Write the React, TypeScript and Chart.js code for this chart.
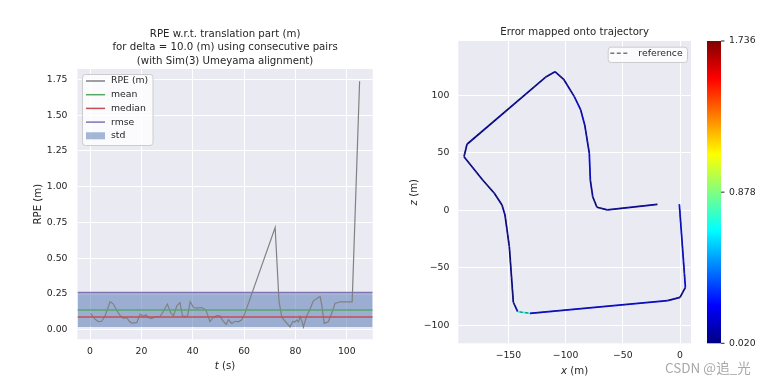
import React, { useEffect, useRef } from "react";
import { Chart, registerables } from "chart.js";

Chart.register(...registerables);

const FONT = "'DejaVu Sans', 'Liberation Sans', sans-serif";
const TEXT = "#262626";

// ---------- Left panel: RPE over time ----------
const titleLinesLeft = [
  "RPE w.r.t. translation part (m)",
  "for delta = 10.0 (m) using consecutive pairs",
  "(with Sim(3) Umeyama alignment)",
];
const rpeTime = [
  0.2, 1.9, 3.2, 4.5, 5.8, 7.8, 9.1, 10.4, 11.7, 13.0, 14.3, 15.3, 16.2, 18.2, 19.5,
  20.8, 21.8, 22.7, 24.0, 25.3, 27.3, 28.6, 30.1, 31.4, 32.5, 33.8, 35.0, 36.0, 37.0, 38.0,
  39.0, 40.3, 41.6, 43.5, 45.1, 46.7, 48.0, 49.4, 50.6, 51.7, 53.0, 53.9, 55.2, 56.5, 57.8,
  59.1, 60.3, 72.1, 73.6, 74.7, 77.9, 79.0, 79.8, 80.5, 81.2, 81.8, 82.5, 83.1, 84.4, 85.4,
  87.0, 89.6, 90.2, 91.2, 92.8, 94.5, 95.4, 97.4, 102.1, 105.0,
];
const rpeValue = [
  0.115, 0.075, 0.058, 0.06, 0.095, 0.196, 0.18, 0.135, 0.1, 0.08, 0.085, 0.06, 0.047, 0.05, 0.11,
  0.095, 0.105, 0.085, 0.078, 0.09, 0.095, 0.13, 0.18, 0.12, 0.098, 0.168, 0.19, 0.098, 0.093, 0.098,
  0.196, 0.156, 0.152, 0.156, 0.14, 0.058, 0.087, 0.1, 0.098, 0.065, 0.038, 0.07, 0.045, 0.06, 0.056,
  0.07, 0.115, 0.715, 0.2, 0.087, 0.021, 0.059, 0.055, 0.068, 0.056, 0.091, 0.063, 0.02, 0.098, 0.133,
  0.203, 0.233, 0.18, 0.045, 0.056, 0.133, 0.184, 0.196, 0.196, 1.736,
];
const statMean = 0.138;
const statMedian = 0.089;
const statRmse = 0.261;
const statStd = 0.235; // band spans mean ± std/2
const leftXRange = [-4.9, 110.1];
const leftYRange = [-0.066, 1.822];
const leftXTicks = [0, 20, 40, 60, 80, 100];
const leftYTicks = [0, 0.25, 0.5, 0.75, 1.0, 1.25, 1.5, 1.75];

// ---------- Right panel: trajectory ----------
const trajX = [
  -19.8, -63.5, -72.6, -76.3, -78.4, -79.3, -83.3, -86.8, -92.4, -101.7, -109.3, -117.7, -186.2, -188.8,
  -172.5, -162.3, -155.6, -153.0, -149.2, -145.7, -141.9, -131.1, -10.8, 0.0, 4.7, 3.8, -0.6,
];
const trajZ = [
  5.2, 0.3, 2.6, 11.8, 26.3, 49.6, 74.2, 87.2, 98.8, 113.9, 120.5, 115.6, 57.4, 46.6,
  26.3, 14.8, 4.6, -4.1, -31.7, -80.0, -88.2, -89.6, -78.6, -75.7, -67.0, -54.8, 5.2,
];
const trajErr = [
  0.1, 0.08, 0.06, 0.1, 0.19, 0.1, 0.15, 0.18, 0.1, 0.09, 0.08, 0.06, 0.05, 0.06,
  0.04, 0.06, 0.11, 0.06, 0.05, 0.11, 0.72, 0.2, 0.1, 0.06, 0.2, 0.19, 0.19,
];
const errMin = 0.02;
const errMax = 1.736;
const cbarTicks = [0.02, 0.878, 1.736];
const rightXRange = [-193.8, 9.6];
const rightYRange = [-115.7, 147.2];
const rightXTicks = [-150, -100, -50, 0];
const rightYTicks = [-100, -50, 0, 50, 100];

const jet = (v: number) => {
  const c = (x: number) => Math.max(0, Math.min(1, x));
  const r = c(Math.min(4 * v - 1.5, -4 * v + 4.5));
  const g = c(Math.min(4 * v - 0.5, -4 * v + 3.5));
  const b = c(Math.min(4 * v + 0.5, -4 * v + 2.5));
  return `rgb(${Math.round(r * 255)},${Math.round(g * 255)},${Math.round(b * 255)})`;
};
const normErr = (e: number) => (e - errMin) / (errMax - errMin);

function drawParts(ctx: CanvasRenderingContext2D, parts: [string, boolean][], x: number, y: number, size: number, rotate = false) {
  ctx.save();
  ctx.translate(x, y);
  if (rotate) ctx.rotate(-Math.PI / 2);
  ctx.fillStyle = TEXT;
  ctx.textBaseline = "middle";
  ctx.textAlign = "left";
  const widths = parts.map(([t, it]) => {
    ctx.font = `${it ? "italic " : ""}${size}px ${FONT}`;
    return ctx.measureText(t).width;
  });
  const total = widths.reduce((a, b) => a + b, 0);
  let cx = -total / 2;
  parts.forEach(([t, it], i) => {
    ctx.font = `${it ? "italic " : ""}${size}px ${FONT}`;
    ctx.fillText(t, cx, 0);
    cx += widths[i];
  });
  ctx.restore();
}

const bgPlugin = {
  id: "bgPlot",
  beforeDraw(chart: any) {
    const { ctx, chartArea: a } = chart;
    ctx.save();
    ctx.fillStyle = "#FFFFFF";
    ctx.fillRect(0, 0, chart.width, chart.height);
    ctx.fillStyle = "#EAEAF2";
    ctx.fillRect(a.left, a.top, a.right - a.left, a.bottom - a.top);
    ctx.restore();
  },
};

const tickFont = { family: FONT, size: 9.3 };

function baseScale(range: number[], tickVals: number[], size: number, pad: number, horizontal: boolean, fmt: (v: number) => string) {
  return {
    type: "linear",
    min: range[0],
    max: range[1],
    bounds: "data",
    afterBuildTicks: (s: any) => {
      s.ticks = tickVals.map((v) => ({ value: v }));
    },
    afterFit: (s: any) => {
      if (horizontal) s.height = size;
      else s.width = size;
    },
    grid: { color: "#FFFFFF", lineWidth: 1, drawTicks: false },
    border: { display: false },
    ticks: {
      padding: pad,
      color: TEXT,
      font: tickFont,
      maxRotation: 0,
      autoSkip: false,
      callback: (v: number) => fmt(v),
    },
  };
}

const minus = (s: string) => s.replace("-", "\u2212");

function LeftChart() {
  const ref = useRef<HTMLCanvasElement>(null);
  useEffect(() => {
    const hline = (v: number) => [
      { x: leftXRange[0], y: v },
      { x: leftXRange[1], y: v },
    ];
    const legendItems = [
      { label: "RPE (m)", color: "#808080", patch: false },
      { label: "mean", color: "#55A868", patch: false },
      { label: "median", color: "#C44E52", patch: false },
      { label: "rmse", color: "#8172B2", patch: false },
      { label: "std", color: "rgba(76,114,176,0.5)", patch: true },
    ];
    const decor = {
      id: "leftDecor",
      afterDraw(chart: any) {
        const { ctx, chartArea: a } = chart;
        const cx = (a.left + a.right) / 2;
        titleLinesLeft.forEach((line, i) => drawParts(ctx, [[line, false]], cx, a.top - 34.7 + i * 13.3, 10.2));
        drawParts(ctx, [["t", true], [" (s)", false]], cx, a.bottom + 27.4, 10.2);
        drawParts(ctx, [["RPE (m)", false]], a.left - 39.2, (a.top + a.bottom) / 2, 10.2, true);
        // legend
        ctx.save();
        const lx = a.left + 4.5, ly = a.top + 5, lw = 70.5, lh = 71;
        ctx.fillStyle = "rgba(255,255,255,0.8)";
        ctx.strokeStyle = "#CCCCCC";
        ctx.lineWidth = 1;
        ctx.beginPath();
        (ctx as any).roundRect(lx + 0.5, ly + 0.5, lw, lh, 3);
        ctx.fill();
        ctx.stroke();
        legendItems.forEach((it, i) => {
          const y = a.top + 12 + i * 13.7;
          if (it.patch) {
            ctx.fillStyle = it.color;
            ctx.fillRect(a.left + 8.5, y - 3.5, 19, 7);
          } else {
            ctx.strokeStyle = it.color;
            ctx.lineWidth = 1.5;
            ctx.beginPath();
            ctx.moveTo(a.left + 8.5, y);
            ctx.lineTo(a.left + 27.5, y);
            ctx.stroke();
          }
          ctx.fillStyle = TEXT;
          ctx.font = `9.3px ${FONT}`;
          ctx.textBaseline = "middle";
          ctx.textAlign = "left";
          ctx.fillText(it.label, a.left + 33.5, y);
        });
        ctx.restore();
      },
    };
    const chart = new Chart(ref.current!, {
      type: "line",
      data: {
        datasets: [
          {
            label: "RPE (m)",
            data: rpeTime.map((t, i) => ({ x: t, y: rpeValue[i] })),
            borderColor: "#808080",
            borderWidth: 1.2,
            pointRadius: 0,
            order: 4,
          },
          { label: "mean", data: hline(statMean), borderColor: "#55A868", borderWidth: 1.5, pointRadius: 0, order: 3 },
          { label: "median", data: hline(statMedian), borderColor: "#C44E52", borderWidth: 1.5, pointRadius: 0, order: 2 },
          { label: "rmse", data: hline(statRmse), borderColor: "#8172B2", borderWidth: 1.5, pointRadius: 0, order: 1 },
          {
            label: "std",
            data: hline(statMean + statStd / 2),
            fill: { value: statMean - statStd / 2 },
            backgroundColor: "rgba(76,114,176,0.5)",
            borderWidth: 0,
            pointRadius: 0,
            order: 9,
          },
        ] as any,
      },
      options: {
        animation: false,
        responsive: false,
        maintainAspectRatio: false,
        events: [],
        layout: { padding: { top: 69, right: 8.3, bottom: 0, left: 0 } },
        plugins: { legend: { display: false }, tooltip: { enabled: false }, title: { display: false } },
        elements: { line: { tension: 0 } },
        scales: {
          x: baseScale(leftXRange, leftXTicks, 42.7, 6.8, true, (v) => String(v)),
          y: baseScale(leftYRange, leftYTicks, 77.5, 10, false, (v) => v.toFixed(2)),
        } as any,
      },
      plugins: [bgPlugin, decor],
    });
    return () => chart.destroy();
  }, []);
  return <canvas ref={ref} width={381} height={382} style={{ position: "absolute", left: 0, top: 0, width: 381, height: 382, display: "block" }} />;
}

function RightChart() {
  const ref = useRef<HTMLCanvasElement>(null);
  useEffect(() => {
    const pts = trajX.map((x, i) => ({ x, y: trajZ[i] }));
    const decor = {
      id: "rightDecor",
      afterDraw(chart: any) {
        const { ctx, chartArea: a } = chart;
        const cx = (a.left + a.right) / 2;
        drawParts(ctx, [["Error mapped onto trajectory", false]], cx, a.top - 8.7, 10.2);
        drawParts(ctx, [["x", true], [" (m)", false]], cx, a.bottom + 28.4, 10.2);
        drawParts(ctx, [["z", true], [" (m)", false]], a.left - 44, (a.top + a.bottom) / 2, 10.2, true);
        ctx.save();
        // legend
        const lx = a.right - 83.3, ly = a.top + 5.7, lw = 79.3, lh = 15.3;
        ctx.fillStyle = "rgba(255,255,255,0.8)";
        ctx.strokeStyle = "#CCCCCC";
        ctx.lineWidth = 1;
        ctx.beginPath();
        (ctx as any).roundRect(lx + 0.5, ly + 0.5, lw, lh, 3);
        ctx.fill();
        ctx.stroke();
        const yy = a.top + 12.3;
        ctx.strokeStyle = "#777777";
        ctx.lineWidth = 1.5;
        ctx.setLineDash([4, 2.5]);
        ctx.beginPath();
        ctx.moveTo(a.right - 80.7, yy);
        ctx.lineTo(a.right - 61.7, yy);
        ctx.stroke();
        ctx.setLineDash([]);
        ctx.fillStyle = TEXT;
        ctx.font = `9.3px ${FONT}`;
        ctx.textBaseline = "middle";
        ctx.textAlign = "left";
        ctx.fillText("reference", a.right - 52.7, yy);
        // colorbar
        const bx = a.right + 16, bw = 14, top = a.top, bot = a.bottom, h = bot - top;
        const grad = ctx.createLinearGradient(0, bot, 0, top);
        for (let i = 0; i <= 40; i++) grad.addColorStop(i / 40, jet(i / 40));
        ctx.fillStyle = grad;
        ctx.fillRect(bx, top, bw, h);
        cbarTicks.forEach((v) => {
          const y = bot - normErr(v) * h;
          ctx.strokeStyle = TEXT;
          ctx.lineWidth = 1;
          ctx.beginPath();
          ctx.moveTo(bx + bw, y);
          ctx.lineTo(bx + bw + 3.5, y);
          ctx.stroke();
          ctx.fillStyle = TEXT;
          ctx.fillText(v.toFixed(3), bx + bw + 8, y);
        });
        ctx.restore();
      },
    };
    const chart = new Chart(ref.current!, {
      type: "line",
      data: {
        datasets: [
          {
            label: "reference",
            data: pts,
            borderColor: "rgba(50,50,60,0.75)",
            borderWidth: 1,
            borderDash: [3, 2.5],
            pointRadius: 0,
            order: 0,
          },
          {
            label: "estimate",
            data: pts,
            borderColor: "#0000B5",
            borderWidth: 1.7,
            pointRadius: 0,
            order: 1,
            segment: { borderColor: (c: any) => jet(normErr(trajErr[c.p0DataIndex])) },
          },
        ] as any,
      },
      options: {
        animation: false,
        responsive: false,
        maintainAspectRatio: false,
        events: [],
        layout: { padding: { top: 41, right: 71, bottom: 0, left: 0 } },
        plugins: { legend: { display: false }, tooltip: { enabled: false }, title: { display: false } },
        elements: { line: { tension: 0 } },
        scales: {
          x: baseScale(rightXRange, rightXTicks, 38.7, 7.1, true, (v) => minus(String(v))),
          y: baseScale(rightYRange, rightYTicks, 77.3, 9, false, (v) => minus(String(v))),
        } as any,
      },
      plugins: [bgPlugin, decor],
    });
    return () => chart.destroy();
  }, []);
  return <canvas ref={ref} width={381} height={382} style={{ position: "absolute", left: 381, top: 0, width: 381, height: 382, display: "block" }} />;
}

export default function App() {
  return (
    <div style={{ position: "absolute", left: 0, top: 0, width: 762, height: 382, background: "#FFFFFF", overflow: "hidden" }}>
      <LeftChart />
      <RightChart />
      <div
        style={{
          position: "absolute",
          left: 665,
          top: 357,
          fontFamily: "'Noto Sans CJK SC', sans-serif",
          fontSize: 13.5,
          lineHeight: "20px",
          color: "#A8A8A8",
          whiteSpace: "nowrap",
        }}
      >
        CSDN @追_光
      </div>
    </div>
  );
}
